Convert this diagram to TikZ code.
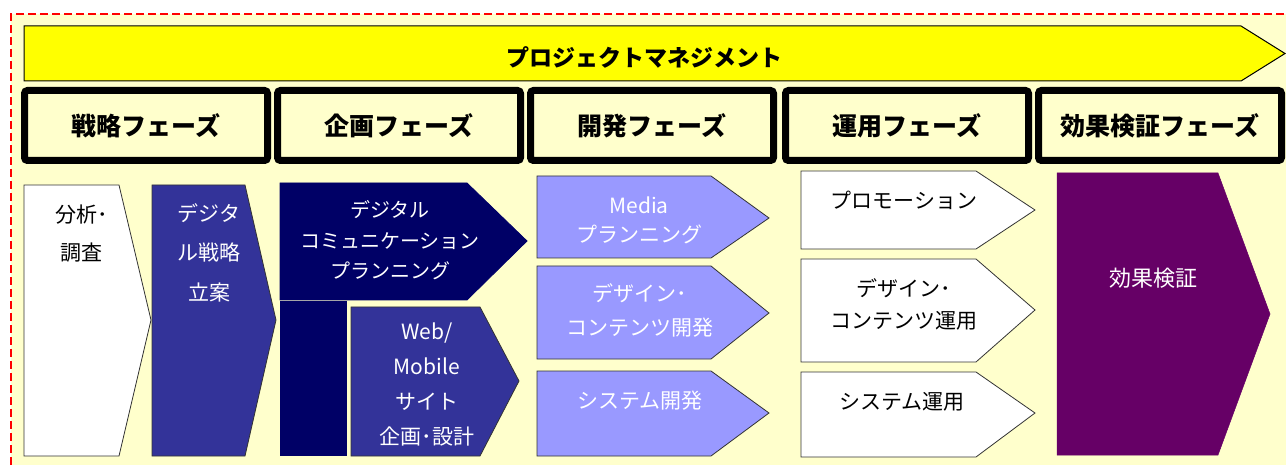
\documentclass[tikz,border=0pt]{standalone}
\usepackage{fontspec}
\setmainfont{Noto Sans CJK JP}
\definecolor{cream}{HTML}{FFFFCC}
\definecolor{ybar}{HTML}{FFFF00}
\definecolor{midblue}{HTML}{333399}
\definecolor{navy}{HTML}{000066}
\definecolor{lilac}{HTML}{9999FF}
\definecolor{plum}{HTML}{660066}
\newcommand\shapearrow[7]{\draw[#1] (#2,#3) -- (#4,#3) -- (#5,#6) -- (#4,#7) -- (#2,#7) -- cycle;}
\tikzset{
  phase/.style={draw=black, line width=7pt, rounded corners=3pt, fill=cream, minimum width=243pt, minimum height=70pt, inner sep=0pt, font=\fontsize{25}{29}\selectfont\bfseries},
  whitebox/.style={fill=white, draw=black!80, line width=0.8pt},
  bluebox/.style={fill=midblue, draw=black!80, line width=0.8pt},
  navybox/.style={fill=navy, draw=navy, line width=0.8pt},
  lilacbox/.style={fill=lilac, draw=black!80, line width=0.8pt},
  plumbox/.style={fill=plum, draw=plum, line width=0.5pt},
  txt/.style={inner sep=0pt, align=center, font=\fontsize{21}{#1}\selectfont},
  txt/.default=34,
}
\begin{document}
\begin{tikzpicture}[x=1pt,y=-1pt]
\useasboundingbox (0,0) rectangle (1286,465);
\fill[cream] (11,14) rectangle (1286,465);
\draw[red, line width=2.2pt, dash pattern=on 8pt off 4pt] (11,465) -- (11,14) -- (1286,14);
% project management arrow
\shapearrow{fill=ybar, draw=black, line width=1pt}{24}{26}{1241}{1285}{53.5}{81}
\node[inner sep=0pt, font=\fontsize{23}{27}\selectfont\bfseries] (pm) at (644,57) {プロジェクトマネジメント};
% phases
\node[phase] (p1) at (146,125.5) {戦略フェーズ};
\node[phase] (p2) at (399,125.5) {企画フェーズ};
\node[phase] (p3) at (652,125.5) {開発フェーズ};
\node[phase] (p4) at (907,125.5) {運用フェーズ};
\node[phase] (p5) at (1160,125.5) {効果検証フェーズ};
% strategy
\shapearrow{whitebox}{24}{185}{119}{151}{320}{456}
\node[txt=38] (s1) at (82,234) {分析･\\調査};
\shapearrow{bluebox}{152}{185}{245}{276}{320}{456}
\node[txt=39.5, text=white] (s2) at (209,252.5) {デジタ\\ル戦略\\立案};
% planning
\shapearrow{navybox}{280}{183}{467}{527}{241}{300}
\node[txt=30.5, font=\fontsize{20}{30.5}\selectfont, text=white] (k1) at (390,240.5) {デジタル\\コミュニケーション\\プランニング};
\fill[navy] (280,301) rectangle (347,456);
\shapearrow{bluebox}{351}{307}{480}{519}{381}{456}
\node[txt=34.7, text=white] (k2) at (427,384.5) {Web/\\Mobile\\サイト\\企画･設計};
% development
\shapearrow{lilacbox}{537}{176}{711}{769}{218}{258}
\node[txt=29, text=white] (d1) at (639,220.5) {Media\\プランニング};
\shapearrow{lilacbox}{537}{266}{711}{769}{313}{359}
\node[txt=34, text=white] (d2) at (640,310) {デザイン･\\コンテンツ開発};
\shapearrow{lilacbox}{537}{371}{711}{769}{413}{456}
\node[txt, text=white] (d3) at (640,401) {システム開発};
% operation
\shapearrow{whitebox}{801}{171}{976}{1035}{210}{249}
\node[txt] (o1) at (904,200) {プロモーション};
\shapearrow{whitebox}{801}{259}{976}{1035}{310}{362}
\node[txt=32] (o2) at (904,304) {デザイン･\\コンテンツ運用};
\shapearrow{whitebox}{801}{372}{976}{1035}{413}{457}
\node[txt] (o3) at (902,401.5) {システム運用};
% evaluation
\shapearrow{plumbox}{1057}{173}{1218}{1270}{314}{455}
\node[txt, font=\fontsize{22}{26}\selectfont, text=white] (e1) at (1153,278) {効果検証};
\end{tikzpicture}
\end{document}
